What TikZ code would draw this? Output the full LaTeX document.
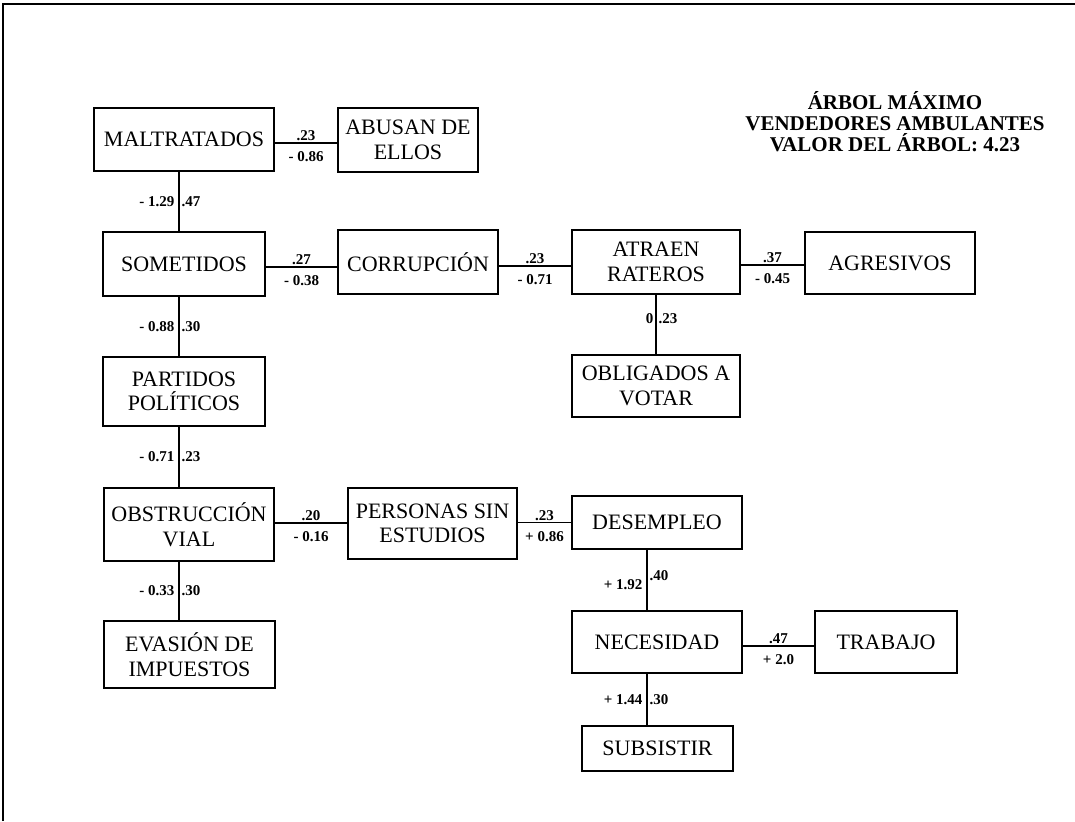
\documentclass[tikz,border=0pt]{standalone}
\usepackage{fontspec}
\setmainfont{Liberation Serif}
\usepackage{tikz}
\tikzset{
    tree-box/.style = {draw, line width=1.3pt, rectangle, align=center, inner sep=0pt, font=\fontsize{22}{24.5}\selectfont},
    tree-link/.style = {line width=1.4pt},
    tree-weight/.style = {font=\fontsize{15}{15}\selectfont\bfseries, inner sep=2pt},
    w-above/.style = {tree-weight, above, inner sep=1.5pt},
    w-below/.style = {tree-weight, below, yshift=-6pt},
    w-left/.style = {tree-weight, left, inner sep=4pt},
    w-right/.style = {tree-weight, right, inner sep=2pt},
    tree-title/.style = {align=center, font=\fontsize{21}{21}\selectfont\bfseries},
}

\begin{document}
\begin{tikzpicture}[x=1pt, y=-1pt]
\useasboundingbox (0,0) rectangle (1075,821);
\draw[line width=1.5pt] (3,821) -- (3,4) -- (1075,4);

\node[tree-title] (title) at (895,122) {ÁRBOL MÁXIMO\\VENDEDORES AMBULANTES\\VALOR DEL ÁRBOL: 4.23};

% left column
\node[tree-box, minimum width=180pt, minimum height=63pt] (malt) at (184,139.5) {MALTRATADOS};
\node[tree-box, minimum width=140pt, minimum height=64pt] (abusan) at (408,140) {ABUSAN DE\\ELLOS};
\node[tree-box, minimum width=162pt, minimum height=64pt] (somet) at (184,264) {SOMETIDOS};
\node[tree-box, minimum width=162pt, minimum height=69pt] (partidos) at (184,391.5) {PARTIDOS\\POLÍTICOS};
\node[tree-box, minimum width=170pt, minimum height=73pt] (obstr) at (189,524.5) {OBSTRUCCIÓN\\VIAL};
\node[tree-box, minimum width=171pt, minimum height=67pt] (evasion) at (189.5,654.5) {EVASIÓN DE\\IMPUESTOS};

% middle and right
\node[tree-box, minimum width=160pt, minimum height=64pt] (corrup) at (418,262) {CORRUPCIÓN};
\node[tree-box, minimum width=168pt, minimum height=64pt] (atraen) at (656,262) {ATRAEN\\RATEROS};
\node[tree-box, minimum width=170pt, minimum height=62pt] (agres) at (890,263) {AGRESIVOS};
\node[tree-box, minimum width=168pt, minimum height=62pt] (oblig) at (656,386) {OBLIGADOS A\\VOTAR};
\node[tree-box, minimum width=169pt, minimum height=71pt] (personas) at (432.5,523.5) {PERSONAS SIN\\ESTUDIOS};
\node[tree-box, minimum width=170pt, minimum height=53pt] (desemp) at (657,522.5) {DESEMPLEO};
\node[tree-box, minimum width=170pt, minimum height=62pt] (neces) at (657,642) {NECESIDAD};
\node[tree-box, minimum width=142pt, minimum height=62pt] (trabajo) at (886,642) {TRABAJO};
\node[tree-box, minimum width=151pt, minimum height=45pt] (subsis) at (657.5,748.5) {SUBSISTIR};

\coordinate (colA) at (179,0);
\coordinate (colB) at (647,0);

% links with weights
\draw[tree-link] ([yshift=-3.5pt]malt.east) -- ([yshift=-3.5pt]malt.east -| abusan.west)
    node[midway, w-above] {.23} node[midway, w-below] {- 0.86};
\draw[tree-link] (colA |- malt.south) -- (colA |- somet.north)
    node[midway, w-left] {- 1.29} node[midway, w-right] {.47};
\draw[tree-link] ([yshift=-3pt]somet.east) -- ([yshift=-3pt]somet.east -| corrup.west)
    node[midway, w-above] {.27} node[midway, w-below] {- 0.38};
\draw[tree-link] ([yshift=-4pt]corrup.east) -- ([yshift=-4pt]corrup.east -| atraen.west)
    node[midway, w-above] {.23} node[midway, w-below] {- 0.71};
\draw[tree-link] ([yshift=-3pt]atraen.east) -- ([yshift=-3pt]atraen.east -| agres.west)
    node[midway, w-above] {.37} node[midway, w-below] {- 0.45};
\draw[tree-link] (atraen.south) -- (oblig.north)
    node[pos=0.4, w-left, inner sep=2pt] {0} node[pos=0.4, w-right] {.23};
\draw[tree-link] (colA |- somet.south) -- (colA |- partidos.north)
    node[midway, w-left] {- 0.88} node[midway, w-right] {.30};
\draw[tree-link] (colA |- partidos.south) -- (colA |- obstr.north)
    node[midway, w-left] {- 0.71} node[midway, w-right] {.23};
\draw[tree-link] ([yshift=1.5pt]obstr.east) -- ([yshift=1.5pt]obstr.east -| personas.west)
    node[midway, w-above] {.20} node[midway, w-below] {- 0.16};
\draw[tree-link] (colA |- obstr.south) -- (colA |- evasion.north)
    node[midway, w-left] {- 0.33} node[midway, w-right] {.30};
\draw[tree-link] (personas.east |- desemp.west) -- (desemp.west)
    node[midway, w-above] {.23} node[midway, w-below] {+ 0.86};
\draw[tree-link] (colB |- desemp.south) -- (colB |- neces.north)
    node[pos=0.58, w-left] {+ 1.92} node[pos=0.42, w-right] {.40};
\draw[tree-link] ([yshift=-4pt]neces.east) -- ([yshift=-4pt]neces.east -| trabajo.west)
    node[midway, w-above] {.47} node[midway, w-below] {+ 2.0};
\draw[tree-link] (colB |- neces.south) -- (colB |- subsis.north)
    node[midway, w-left] {+ 1.44} node[midway, w-right] {.30};
\end{tikzpicture}
\end{document}
